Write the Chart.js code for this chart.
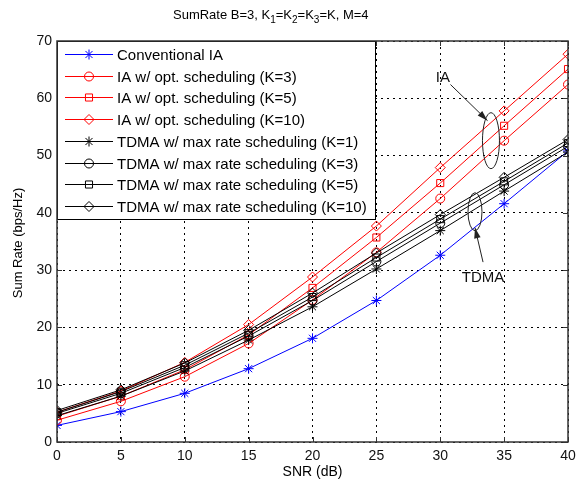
<!DOCTYPE html>
<html>
<head>
<meta charset="utf-8">
<script src="https://cdn.jsdelivr.net/npm/chart.js@4.4.1/dist/chart.umd.min.js"></script>
<style>
  body { margin: 0; background: #fff; }
  canvas { display: block; }
</style>
</head>
<body>
<canvas id="sumRateChart" width="585" height="487"></canvas>
<script>
const snr = [0, 5, 10, 15, 20, 25, 30, 35, 40];
const yTicks = [0, 10, 20, 30, 40, 50, 60, 70];

const convIA = [2.9, 5.3, 8.5, 12.8, 18.1, 24.7, 32.6, 41.6, 50.8];
const iaK3 = [3.8, 7.1, 11.4, 17.2, 24.8, 33.1, 42.5, 52.6, 62.4];
const iaK5 = [4.5, 8.0, 12.6, 18.7, 26.9, 35.7, 45.2, 55.2, 65.1];
const iaK10 = [5.2, 8.9, 13.9, 20.5, 28.8, 37.7, 47.9, 57.8, 67.7];
const tdmaK1 = [4.6, 8.0, 12.4, 17.8, 23.6, 30.2, 36.9, 43.8, 50.6];
const tdmaK3 = [5.0, 8.5, 13.0, 18.5, 24.7, 31.5, 38.2, 44.9, 51.6];
const tdmaK5 = [5.2, 8.8, 13.4, 19.0, 25.3, 32.2, 38.9, 45.5, 52.2];
const tdmaK10 = [5.5, 9.1, 13.8, 19.5, 26.0, 33.0, 39.7, 46.2, 52.8];

const FONT = '"Liberation Sans", Arial, sans-serif';

function series(label, values, color, style, radius, i) {
  return {
    label: label,
    data: values.map((v, k) => ({ x: snr[k], y: v })),
    borderColor: color,
    backgroundColor: 'rgba(0,0,0,0)',
    borderWidth: 1,
    pointStyle: style,
    pointRadius: radius,
    pointBorderColor: color,
    pointBackgroundColor: 'rgba(0,0,0,0)',
    pointBorderWidth: 1,
    order: 10 - i,
    tension: 0
  };
}

// background, frame, inner ticks, annotations, legend, title
const decor = {
  id: 'decor',
  beforeDraw(chart) {
    const ctx = chart.ctx;
    ctx.save();
    ctx.fillStyle = '#fff';
    ctx.fillRect(0, 0, chart.width, chart.height);
    ctx.restore();
  },
  afterDraw(chart) {
    const { ctx, chartArea: a, scales: { x, y } } = chart;
    ctx.save();

    // inner ticks (matlab style)
    ctx.strokeStyle = '#333';
    ctx.lineWidth = 1;
    ctx.beginPath();
    snr.forEach(v => {
      const px = Math.round(x.getPixelForValue(v)) + 0.5;
      ctx.moveTo(px, a.bottom); ctx.lineTo(px, a.bottom - 5);
      ctx.moveTo(px, a.top); ctx.lineTo(px, a.top + 5);
    });
    yTicks.forEach(v => {
      const py = Math.round(y.getPixelForValue(v)) + 0.5;
      ctx.moveTo(a.left, py); ctx.lineTo(a.left + 5, py);
      ctx.moveTo(a.right, py); ctx.lineTo(a.right - 5, py);
    });
    ctx.stroke();

    // annotations
    const px = v => x.getPixelForValue(v);
    const py = v => y.getPixelForValue(v);
    ctx.strokeStyle = '#222';
    ctx.fillStyle = '#222';
    ctx.lineWidth = 1;
    const ellipse = (cx, cy, rx, ry) => {
      ctx.beginPath();
      ctx.ellipse(px(cx), py(cy), rx, ry, 0, 0, Math.PI * 2);
      ctx.stroke();
    };
    const arrow = (x0, y0, x1, y1) => {
      const ax = px(x0), ay = py(y0), bx = px(x1), by = py(y1);
      ctx.beginPath(); ctx.moveTo(ax, ay); ctx.lineTo(bx, by); ctx.stroke();
      const ang = Math.atan2(by - ay, bx - ax);
      ctx.beginPath();
      ctx.moveTo(bx, by);
      ctx.lineTo(bx - 11 * Math.cos(ang - 0.3), by - 11 * Math.sin(ang - 0.3));
      ctx.lineTo(bx - 11 * Math.cos(ang + 0.3), by - 11 * Math.sin(ang + 0.3));
      ctx.closePath();
      ctx.fill();
    };
    ellipse(33.97, 52.6, 8.5, 28);
    arrow(30.8, 62.4, 33.7, 56.1);
    ellipse(32.72, 40.2, 7, 19);
    arrow(33.35, 31.4, 32.72, 37.4);
    ctx.font = '15px ' + FONT;
    ctx.textAlign = 'center';
    ctx.textBaseline = 'middle';
    ctx.fillStyle = '#111';
    ctx.fillText('IA', px(30.2), py(63.5));
    ctx.fillText('TDMA', px(33.35), py(28.6));

    // legend box in the upper left corner of the axes
    const sets = chart.data.datasets;
    ctx.font = '15px ' + FONT;
    ctx.textAlign = 'left';
    const rowH = 21.7;
    const textW = Math.max(...sets.map(d => ctx.measureText(d.label).width));
    const w = Math.round(60 + textW + 8), h = Math.round(sets.length * rowH + 4);
    ctx.fillStyle = '#fff';
    ctx.fillRect(a.left, a.top, w, h);
    ctx.strokeStyle = '#000';
    ctx.strokeRect(a.left + 0.5, a.top + 0.5, w, h);
    sets.forEach((d, i) => {
      const cy = Math.round(a.top + 13 + i * rowH) + 0.5;
      ctx.strokeStyle = d.borderColor;
      ctx.lineWidth = 1;
      ctx.beginPath();
      ctx.moveTo(a.left + 8, cy); ctx.lineTo(a.left + 56, cy);
      ctx.stroke();
      ctx.fillStyle = 'rgba(0,0,0,0)';
      Chart.helpers.drawPoint(ctx, { pointStyle: d.pointStyle, radius: d.pointRadius, borderWidth: 1, rotation: 0 }, a.left + 32, cy);
      ctx.fillStyle = '#000';
      ctx.textBaseline = 'middle';
      ctx.fillText(d.label, a.left + 60, cy + 1);
    });

    // axes box
    ctx.strokeStyle = '#333';
    ctx.lineWidth = 1.5;
    ctx.strokeRect(a.left, a.top, a.right - a.left, a.bottom - a.top);

    // title with subscripts
    const parts = [['SumRate B=3, K', 0], ['1', 1], ['=K', 0], ['2', 1], ['=K', 0], ['3', 1], ['=K, M=4', 0]];
    ctx.fillStyle = '#000';
    ctx.textBaseline = 'alphabetic';
    let tx = 173;
    parts.forEach(([s, sub]) => {
      ctx.font = (sub ? '10px ' : '13px ') + FONT;
      ctx.fillText(s, tx, sub ? 23 : 19);
      tx += ctx.measureText(s).width;
    });

    // axis titles
    ctx.textAlign = 'center';
    ctx.textBaseline = 'middle';
    ctx.font = '14px ' + FONT;
    ctx.fillText('SNR (dB)', (a.left + a.right) / 2, 472);
    ctx.font = '13px ' + FONT;
    ctx.translate(18, 243);
    ctx.rotate(-Math.PI / 2);
    ctx.fillText('Sum Rate (bps/Hz)', 0, 0);

    ctx.restore();
  }
};

const ctx = document.getElementById('sumRateChart').getContext('2d');

new Chart(ctx, {
  type: 'line',
  data: {
    datasets: [
      series('Conventional IA', convIA, '#0000ff', 'star', 5, 0),
      series('IA w/ opt. scheduling (K=3)', iaK3, '#ff0000', 'circle', 4.5, 1),
      series('IA w/ opt. scheduling (K=5)', iaK5, '#ff0000', 'rect', 5, 2),
      series('IA w/ opt. scheduling (K=10)', iaK10, '#ff0000', 'rectRot', 5, 3),
      series('TDMA w/ max rate scheduling (K=1)', tdmaK1, '#000000', 'star', 5, 4),
      series('TDMA w/ max rate scheduling (K=3)', tdmaK3, '#000000', 'circle', 4.5, 5),
      series('TDMA w/ max rate scheduling (K=5)', tdmaK5, '#000000', 'rect', 5, 6),
      series('TDMA w/ max rate scheduling (K=10)', tdmaK10, '#000000', 'rectRot', 5, 7)
    ]
  },
  options: {
    responsive: false,
    animation: false,
    layout: {
      padding: { top: 41, right: 17, left: 0, bottom: 0 }
    },
    scales: {
      x: {
        type: 'linear',
        min: 0,
        max: 40,
        afterFit: s => { s.height = 45; },
        afterBuildTicks: s => { s.ticks = snr.map(v => ({ value: v })); },
        ticks: {
          color: '#111',
          font: { family: FONT, size: 14 },
          padding: 6
        },
        grid: {
          color: '#000',
          lineWidth: 1,
          drawTicks: false
        },
        border: { display: false, dash: [2, 4] }
      },
      y: {
        min: 0,
        max: 70,
        afterFit: s => { s.width = 57; },
        afterBuildTicks: s => { s.ticks = yTicks.map(v => ({ value: v })); },
        ticks: {
          color: '#111',
          font: { family: FONT, size: 14 },
          padding: 5
        },
        grid: {
          color: '#000',
          lineWidth: 1,
          drawTicks: false
        },
        border: { display: false, dash: [2, 4] }
      }
    },
    plugins: {
      legend: { display: false },
      tooltip: { enabled: false }
    }
  },
  plugins: [decor]
});
</script>
</body>
</html>
